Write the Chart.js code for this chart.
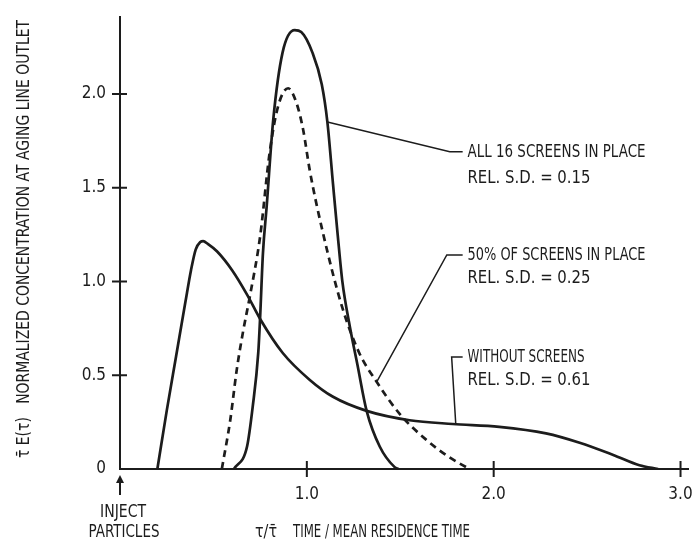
<!DOCTYPE html>
<html>
<head>
<meta charset="utf-8">
<script src="https://cdn.jsdelivr.net/npm/chart.js@4"></script>
<style>
  body { margin: 0; background: #fff; }
  canvas { display: block; }
</style>
</head>
<body>
<canvas id="rtdChart" width="695" height="541"></canvas>
<script>
// residence time distribution curves
var screens16X = [0.61, 0.68, 0.71, 0.74, 0.75, 0.765, 0.785, 0.82, 0.87, 0.935, 0.97, 1.03, 1.08, 1.11, 1.14, 1.165, 1.19, 1.23, 1.27, 1.32, 1.39, 1.47, 1.49];
var screens16Y = [0, 0.12, 0.33, 0.62, 0.81, 1.15, 1.40, 1.86, 2.22, 2.34, 2.33, 2.22, 2.05, 1.85, 1.52, 1.25, 1.00, 0.76, 0.56, 0.31, 0.12, 0.01, 0];

var screens50X = [0.545, 0.59, 0.625, 0.66, 0.695, 0.75, 0.80, 0.845, 0.90, 0.945, 0.98, 1.016, 1.086, 1.19, 1.28, 1.37, 1.50, 1.64, 1.76, 1.87];
var screens50Y = [0, 0.26, 0.53, 0.74, 0.92, 1.24, 1.68, 1.93, 2.03, 1.95, 1.81, 1.59, 1.26, 0.86, 0.62, 0.47, 0.29, 0.155, 0.064, 0];

var noScreensX = [0.20, 0.25, 0.30, 0.35, 0.38, 0.405, 0.43, 0.445, 0.47, 0.52, 0.60, 0.68, 0.75, 0.87, 1.016, 1.14, 1.32, 1.55, 1.78, 2.03, 2.28, 2.46, 2.64, 2.78, 2.88];
var noScreensY = [0, 0.31, 0.60, 0.89, 1.06, 1.17, 1.21, 1.215, 1.20, 1.16, 1.06, 0.93, 0.80, 0.62, 0.475, 0.385, 0.31, 0.26, 0.24, 0.225, 0.19, 0.14, 0.075, 0.02, 0];

// leader lines from curve to the notes
var leader16X = [1.11, 1.765, 1.834];
var leader16Y = [1.85, 1.691, 1.691];
var leader50X = [1.374, 1.749, 1.834];
var leader50Y = [0.464, 1.141, 1.141];
var leaderNoX = [1.797, 1.775, 1.834];
var leaderNoY = [0.24, 0.597, 0.597];

var xTicks = [1.0, 2.0, 3.0];
var yTicks = [0, 0.5, 1.0, 1.5, 2.0];
var xTickLabels = ["1.0", "2.0", "3.0"];
var yTickLabels = ["0", "0.5", "1.0", "1.5", "2.0"];

var notes = [
  ["ALL 16 SCREENS IN PLACE", "REL. S.D. = 0.15"],
  ["50% OF SCREENS IN PLACE", "REL. S.D. = 0.25"],
  ["WITHOUT SCREENS", "REL. S.D. = 0.61"]
];
var noteY = [[1.691, 1.552], [1.141, 1.019], [0.597, 0.475]];
var noteWidth = [[178, 123], [178, 123], [117, 123]];
var noteX = 1.86;

var ink = "#1c1c1c";
var fontFam = '"DejaVu Sans Condensed", "Liberation Sans Narrow", "Roboto Condensed", "DejaVu Sans", sans-serif';

function pts(xs, ys) {
  return xs.map(function (x, i) { return { x: x, y: ys[i] }; });
}

function curve(label, xs, ys, dash) {
  return {
    label: label,
    data: pts(xs, ys),
    showLine: true,
    borderColor: ink,
    borderWidth: 2.7,
    borderDash: dash || [],
    pointRadius: 0,
    cubicInterpolationMode: "monotone",
    fill: false
  };
}

function leader(xs, ys) {
  return {
    data: pts(xs, ys),
    showLine: true,
    borderColor: ink,
    borderWidth: 1.5,
    pointRadius: 0,
    tension: 0,
    fill: false
  };
}

// draw text squeezed or stretched to a given width
function fitText(ctx, str, x, y, w, align) {
  var m = ctx.measureText(str).width;
  ctx.save();
  ctx.translate(x, y);
  ctx.scale(w / m, 1);
  ctx.textAlign = align || "left";
  ctx.fillText(str, 0, 0);
  ctx.restore();
}

var decor = {
  id: "decor",
  afterDraw: function (chart) {
    var ctx = chart.ctx;
    var xs = chart.scales.x, ys = chart.scales.y;
    var x0 = xs.getPixelForValue(0), y0 = ys.getPixelForValue(0);
    ctx.save();
    ctx.strokeStyle = ink;
    ctx.fillStyle = ink;
    ctx.lineWidth = 2;

    // tick marks crossing the axes
    ctx.beginPath();
    xTicks.forEach(function (v) {
      var px = xs.getPixelForValue(v);
      ctx.moveTo(px, y0 - 8);
      ctx.lineTo(px, y0 + 8);
    });
    yTicks.slice(1).forEach(function (v) {
      var py = ys.getPixelForValue(v);
      ctx.moveTo(x0 - 8, py);
      ctx.lineTo(x0 + 7, py);
    });
    ctx.stroke();

    // inject arrow
    ctx.beginPath();
    ctx.moveTo(x0, y0 + 26);
    ctx.lineTo(x0, y0 + 12);
    ctx.stroke();
    ctx.beginPath();
    ctx.moveTo(x0, y0 + 6);
    ctx.lineTo(x0 - 4, y0 + 14);
    ctx.lineTo(x0 + 4, y0 + 14);
    ctx.closePath();
    ctx.fill();

    ctx.font = "18px " + fontFam;
    ctx.textBaseline = "middle";

    // notes next to the leaders
    notes.forEach(function (lines, i) {
      lines.forEach(function (s, j) {
        fitText(ctx, s, xs.getPixelForValue(noteX), ys.getPixelForValue(noteY[i][j]), noteWidth[i][j], "left");
      });
    });

    // x axis texts
    fitText(ctx, "INJECT", x0 + 3, 512, 46, "center");
    fitText(ctx, "PARTICLES", x0 + 4, 532, 71, "center");
    fitText(ctx, "\u03c4/\u03c4\u0304", 266, 532, 22, "center");
    fitText(ctx, "TIME / MEAN RESIDENCE TIME", 293, 532, 177, "left");

    // y axis title
    ctx.save();
    ctx.translate(24, 239);
    ctx.rotate(-Math.PI / 2);
    fitText(ctx, "\u03c4\u0304 E(\u03c4)   NORMALIZED CONCENTRATION AT AGING LINE OUTLET", 0, 0, 438, "center");
    ctx.restore();

    ctx.restore();
  }
};

var rtdChart = new Chart(document.getElementById("rtdChart").getContext("2d"), {
  type: "scatter",
  data: {
    datasets: [
      curve("All 16 screens in place", screens16X, screens16Y),
      curve("50% of screens in place", screens50X, screens50Y, [7, 5]),
      curve("Without screens", noScreensX, noScreensY),
      leader(leader16X, leader16Y),
      leader(leader50X, leader50Y),
      leader(leaderNoX, leaderNoY)
    ]
  },
  options: {
    responsive: false,
    animation: false,
    devicePixelRatio: 1,
    layout: { padding: { top: 17, right: 7, left: 0, bottom: 0 } },
    plugins: { legend: { display: false }, tooltip: { enabled: false } },
    scales: {
      x: {
        type: "linear",
        min: 0,
        max: 3.04,
        afterBuildTicks: function (s) { s.ticks = xTicks.map(function (v) { return { value: v }; }); },
        afterFit: function (s) { s.height = 72; s.paddingLeft = 0; s.paddingRight = 0; },
        grid: { display: false, drawTicks: false },
        border: { display: true, color: ink, width: 2 },
        ticks: {
          autoSkip: false,
          maxRotation: 0,
          padding: 15,
          color: ink,
          font: { family: fontFam, size: 17 },
          callback: function (v, i) { return xTickLabels[i]; }
        }
      },
      y: {
        min: 0,
        max: 2.41,
        afterBuildTicks: function (s) { s.ticks = yTicks.map(function (v) { return { value: v }; }); },
        afterFit: function (s) { s.width = 120; s.paddingTop = 0; s.paddingBottom = 0; },
        grid: { display: false, drawTicks: false },
        border: { display: true, color: ink, width: 2 },
        ticks: {
          autoSkip: false,
          padding: 14,
          color: ink,
          font: { family: fontFam, size: 17 },
          callback: function (v, i) { return yTickLabels[i]; }
        }
      }
    }
  },
  plugins: [decor]
});
</script>
</body>
</html>
